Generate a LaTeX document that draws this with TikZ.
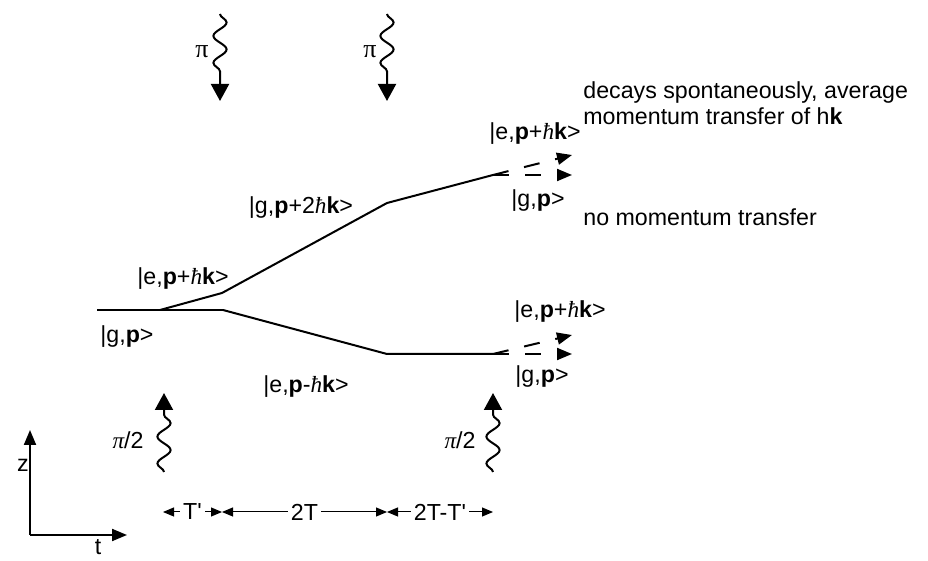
\documentclass[tikz,border=0pt]{standalone}
\usepackage{fontspec}
\setmainfont{Liberation Sans}[Ligatures=TeXOff]
\newfontfamily\grk{Liberation Serif}
\usetikzlibrary{arrows.meta, decorations.pathmorphing}
\newcommand{\hb}{{\grk\itshape ħ}}

\begin{document}
\begin{tikzpicture}[x=0.5pt, y=-0.5pt,
  lbl/.style={font=\fontsize{11.6}{13}\selectfont, inner sep=0pt},
  state/.style={line width=1pt, line join=round},
  decay/.style={line width=1pt, dash pattern=on 8pt off 8pt, -{Triangle[length=7.5pt,width=6pt]}},
  photon/.style={line width=1pt, decorate,
                 decoration={snake, segment length=13.5pt, amplitude=3.3pt, post length=9.5pt},
                 -{Triangle[length=8.5pt,width=9pt]}},
  ax/.style={line width=1pt, -{Triangle[length=7.5pt,width=6pt]}},
  span/.style={line width=0.5pt, {Triangle[length=5.5pt,width=4.5pt]}-{Triangle[length=5.5pt,width=4.5pt]}},
  spanlbl/.style={lbl, fill=white, inner xsep=1.5pt}
]
\useasboundingbox (0,0) rectangle (928,561);

\coordinate (g0)  at (97,310);
\coordinate (sp1) at (160,310);
\coordinate (sp2) at (223,310);
\coordinate (up1) at (222,293);
\coordinate (up2) at (387,203);
\coordinate (up3) at (493,175);
\coordinate (lo1) at (387,354);
\coordinate (lo2) at (493,354);
\coordinate (ue)  at (572,155);
\coordinate (ug)  at (572,175);
\coordinate (le)  at (572,335);
\coordinate (lg)  at (572,354);

\draw[state] (g0) -- (sp2);
\draw[state] (sp1) -- (up1) -- (up2) -- (up3);
\draw[state] (sp2) -- (lo1) -- (lo2);
\draw[decay] (up3) -- (ue);
\draw[decay] (up3) -- (ug);
\draw[decay] (lo2) -- (le);
\draw[decay] (lo2) -- (lg);

\node[lbl] (e1)  at (183,279) {|e,\textbf{p}+\hb\textbf{k}>};
\node[lbl] (g1)  at (127,337) {|g,\textbf{p}>};
\node[lbl] (g2)  at (301,208) {|g,\textbf{p}+2\hb\textbf{k}>};
\node[lbl] (em)  at (306,387) {|e,\textbf{p}-\hb\textbf{k}>};
\node[lbl] (ue1) at (535,134) {|e,\textbf{p}+\hb\textbf{k}>};
\node[lbl] (ug1) at (538,201) {|g,\textbf{p}>};
\node[lbl] (le1) at (560,312) {|e,\textbf{p}+\hb\textbf{k}>};
\node[lbl] (lg1) at (542,377) {|g,\textbf{p}>};

\node[lbl, anchor=west, align=left] (dec) at (583,103)
  {decays spontaneously, average\\momentum transfer of h\textbf{k}};
\node[lbl, anchor=west] (nmt) at (583,217) {no momentum transfer};

\coordinate (pa1) at (220,14);
\coordinate (pa2) at (220,101);
\coordinate (pb1) at (387,14);
\coordinate (pb2) at (387,101);
\coordinate (pc1) at (164,472);
\coordinate (pc2) at (164,393);
\coordinate (pd1) at (493,472);
\coordinate (pd2) at (493,393);

\draw[photon] (pa1) -- (pa2);
\draw[photon] (pb1) -- (pb2);
\draw[photon] (pc1) -- (pc2);
\draw[photon] (pd1) -- (pd2);

\node[lbl] (pi1) at (202,52) {\grk\fontsize{13}{13}\selectfont π};
\node[lbl] (pi2) at (370,52) {\grk\fontsize{13}{13}\selectfont π};
\node[lbl] (ph1) at (128,440) {{\grk\itshape π}/2};
\node[lbl] (ph2) at (460,440) {{\grk\itshape π}/2};

\coordinate (o)  at (30,535);
\coordinate (zt) at (30,430);
\coordinate (tt) at (127,535);
\draw[ax] (o) -- (zt);
\draw[ax] (o) -- (tt);
\node[lbl] (zl) at (23,465) {z};
\node[lbl, anchor=south] (tl) at (98,555) {t};

\coordinate (t0) at (163,512);
\coordinate (t1) at (222,512);
\coordinate (t2) at (387,512);
\coordinate (t3) at (493,512);
\draw[span] (t0) -- node[spanlbl] {T'} (t1);
\draw[span] (t1) -- node[spanlbl] {2T} (t2);
\draw[span] (t2) -- node[spanlbl] {2T-T'} (t3);
\end{tikzpicture}
\end{document}
